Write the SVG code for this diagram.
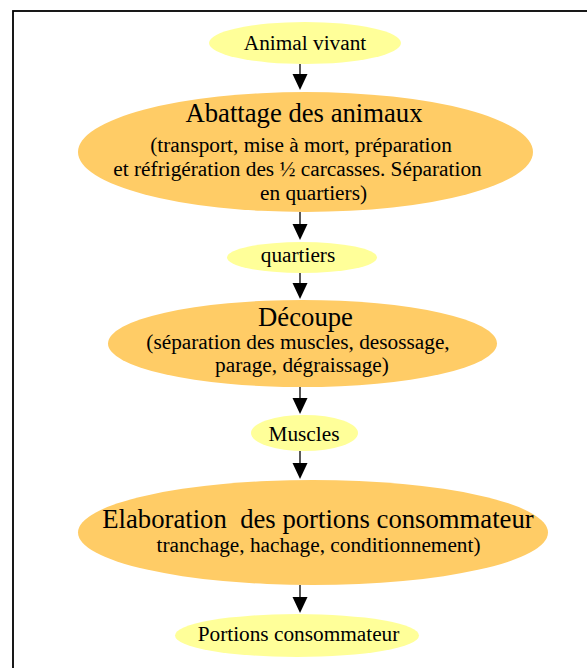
<svg xmlns="http://www.w3.org/2000/svg" width="587" height="668" viewBox="0 0 587 668">
<style>
  .bg { fill: #ffffff; }
  .frame { fill: none; stroke: #000000; stroke-width: 1.8; }
  .light { fill: #FFFF99; }
  .main { fill: #FFCC66; }
  text { font-family: "Liberation Serif", "Times New Roman", serif; fill: #000000; text-anchor: middle; }
  .t { font-size: 26.7px; }
  .s { font-size: 21.3px; }
  .edge { stroke: #000000; stroke-width: 1.3; fill: none; }
  .head { fill: #000000; }
</style>
<rect class="bg" x="0" y="0" width="587" height="668"/>
<rect class="frame" x="13" y="11" width="600" height="700"/>

<g id="connectors">
  <line class="edge" x1="300" y1="64" x2="300" y2="74" />
  <polygon class="head" points="292.5,74 307.5,74 300,90"/>
  <line class="edge" x1="300" y1="212" x2="300" y2="224" />
  <polygon class="head" points="292.5,224 307.5,224 300,240"/>
  <line class="edge" x1="300" y1="273" x2="300" y2="283" />
  <polygon class="head" points="292.5,283 307.5,283 300,299"/>
  <line class="edge" x1="300" y1="387" x2="300" y2="398" />
  <polygon class="head" points="292.5,398 307.5,398 300,414"/>
  <line class="edge" x1="300" y1="451" x2="300" y2="463" />
  <polygon class="head" points="292.5,463 307.5,463 300,479"/>
  <line class="edge" x1="300" y1="585" x2="300" y2="597" />
  <polygon class="head" points="292.5,597 307.5,597 300,613"/>
</g>

<g id="animal-vivant">
  <ellipse class="light" cx="305" cy="43" rx="96" ry="21"/>
  <text class="s" x="305" y="50">Animal vivant</text>
</g>

<g id="abattage">
  <ellipse class="main" cx="305.5" cy="152" rx="227.5" ry="60"/>
  <text class="t" x="304" y="122">Abattage des animaux</text>
  <text class="s" x="301" y="152">(transport, mise à mort, préparation</text>
  <text class="s" x="297.5" y="176">et réfrigération des ½ carcasses. Séparation</text>
  <text class="s" x="313.5" y="200">en quartiers)</text>
</g>

<g id="quartiers">
  <ellipse class="light" cx="302" cy="257.5" rx="75" ry="15.5"/>
  <text class="s" x="298" y="262">quartiers</text>
</g>

<g id="decoupe">
  <ellipse class="main" cx="302.5" cy="343.5" rx="194.5" ry="43.5"/>
  <text class="t" x="305.5" y="326">Découpe</text>
  <text class="s" x="298" y="349">(séparation des muscles, desossage,</text>
  <text class="s" x="302" y="372">parage, dégraissage)</text>
</g>

<g id="muscles">
  <ellipse class="light" cx="304.5" cy="433" rx="53.5" ry="18"/>
  <text class="s" x="304" y="441">Muscles</text>
</g>

<g id="elaboration">
  <ellipse class="main" cx="313" cy="532.5" rx="235" ry="52.5"/>
  <text class="t" x="318" y="528">Elaboration&#160; des portions consommateur</text>
  <text class="s" x="318.5" y="552">tranchage, hachage, conditionnement)</text>
</g>

<g id="portions">
  <ellipse class="light" cx="297" cy="635.5" rx="122" ry="21.5"/>
  <text class="s" x="298.5" y="641">Portions consommateur</text>
</g>
</svg>
